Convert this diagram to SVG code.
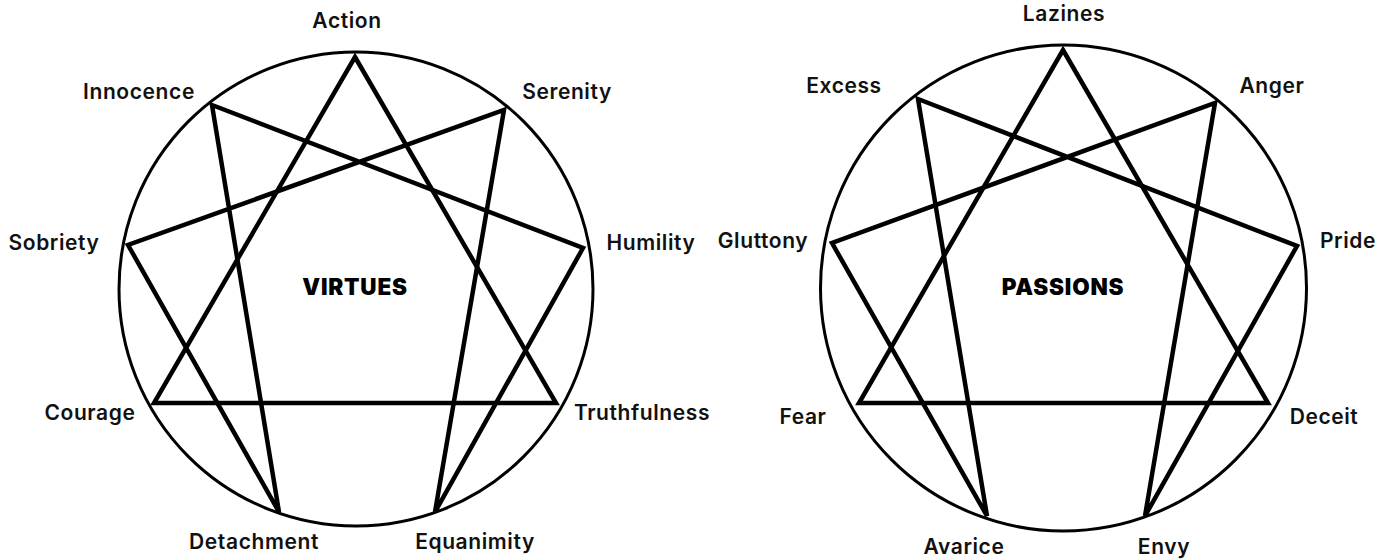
<svg xmlns="http://www.w3.org/2000/svg" width="1390" height="559" viewBox="0 0 1390 559">
<style>
.ring{fill:none;stroke:#000;stroke-width:3}
.star{fill:none;stroke:#000;stroke-width:4.5;stroke-linejoin:miter}
.lbl{font-family:Inter,"Liberation Sans",sans-serif;font-weight:600;font-size:21px;letter-spacing:0.6px;fill:#111;text-anchor:middle}
.title{font-family:Inter,"Liberation Sans",sans-serif;font-weight:900;font-size:22.5px;letter-spacing:0.8px;fill:#000;text-anchor:middle}
</style>
<rect width="1390" height="559" fill="#fff"/>
<g id="virtues">
  <g id="virtues-ring"><circle class="ring" cx="356" cy="289" r="237"/></g>
  <g id="virtues-connectors">
    <polygon class="star" points="355,57 556,403 154,403"/>
    <polygon class="star" points="212,105 583,248 435,512 504,110 128,245 279,512"/>
  </g>
  <g id="virtues-title"><text class="title" x="355" y="295">VIRTUES</text></g>
  <g id="node-action"><text class="lbl" x="347" y="28">Action</text></g>
  <g id="node-innocence"><text class="lbl" x="139" y="99">Innocence</text></g>
  <g id="node-serenity"><text class="lbl" x="567" y="99">Serenity</text></g>
  <g id="node-sobriety"><text class="lbl" x="54" y="250">Sobriety</text></g>
  <g id="node-humility"><text class="lbl" x="651" y="250">Humility</text></g>
  <g id="node-courage"><text class="lbl" x="90" y="420">Courage</text></g>
  <g id="node-truthfulness"><text class="lbl" x="642" y="420">Truthfulness</text></g>
  <g id="node-detachment"><text class="lbl" x="254" y="549">Detachment</text></g>
  <g id="node-equanimity"><text class="lbl" x="475" y="549">Equanimity</text></g>
</g>
<g id="passions">
  <g id="passions-ring"><circle class="ring" cx="1063.5" cy="288" r="243"/></g>
  <g id="passions-connectors">
    <polygon class="star" points="1063,50 1268,403 859,403"/>
    <polygon class="star" points="918,99 1297,246 1145,516 1215,103 832,243 987,516"/>
  </g>
  <g id="passions-title"><text class="title" x="1063" y="295">PASSIONS</text></g>
  <g id="node-lazines"><text class="lbl" x="1064" y="21">Lazines</text></g>
  <g id="node-excess"><text class="lbl" x="844" y="93">Excess</text></g>
  <g id="node-anger"><text class="lbl" x="1272" y="93">Anger</text></g>
  <g id="node-gluttony"><text class="lbl" x="763" y="248">Gluttony</text></g>
  <g id="node-pride"><text class="lbl" x="1348" y="248">Pride</text></g>
  <g id="node-fear"><text class="lbl" x="803" y="424">Fear</text></g>
  <g id="node-deceit"><text class="lbl" x="1324" y="424">Deceit</text></g>
  <g id="node-avarice"><text class="lbl" x="964" y="554">Avarice</text></g>
  <g id="node-envy"><text class="lbl" x="1164" y="554">Envy</text></g>
</g>
</svg>
